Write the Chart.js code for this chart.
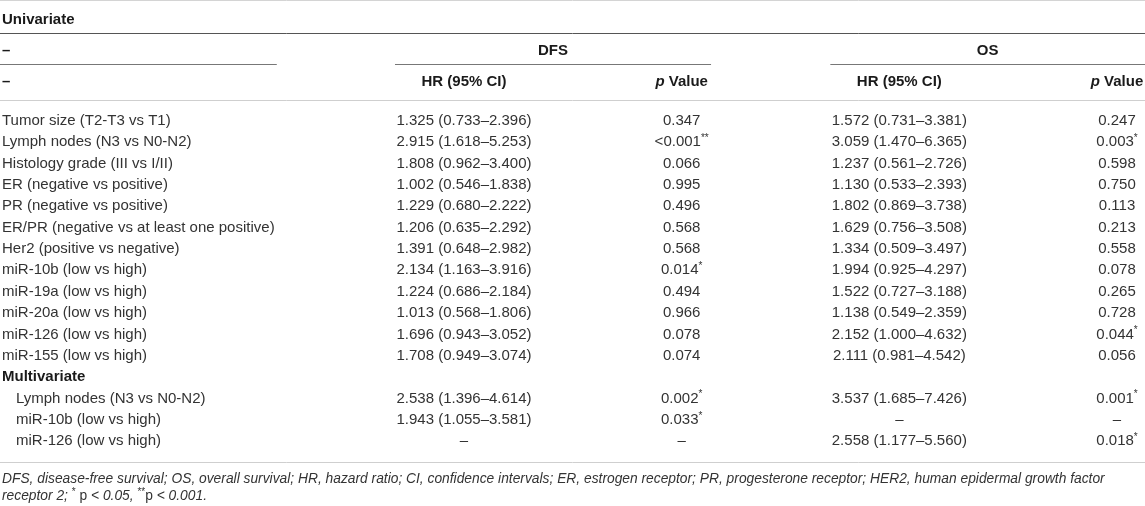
<!DOCTYPE html>
<html><head><meta charset="utf-8">
<script src="https://cdn.jsdelivr.net/npm/chart.js@4.4.1/dist/chart.umd.min.js"></script>
<style>html,body{margin:0;padding:0;background:#fff}#wrap{width:1145px;height:506px;position:relative}</style>
</head><body><div id="wrap"><canvas id="c"></canvas></div>
<script>
// ---- table content ----
const sectionTitle = 'Univariate';
const groupHeaders = ['DFS', 'OS'];
const columnHeaders = ['HR (95% CI)', 'p Value', 'HR (95% CI)', 'p Value'];
const rowLabels = [
  'Tumor size (T2-T3 vs T1)',
  'Lymph nodes (N3 vs N0-N2)',
  'Histology grade (III vs I/II)',
  'ER (negative vs positive)',
  'PR (negative vs positive)',
  'ER/PR (negative vs at least one positive)',
  'Her2 (positive vs negative)',
  'miR-10b (low vs high)',
  'miR-19a (low vs high)',
  'miR-20a (low vs high)',
  'miR-126 (low vs high)',
  'miR-155 (low vs high)',
  'Multivariate',
  'Lymph nodes (N3 vs N0-N2) ',
  'miR-10b (low vs high) ',
  'miR-126 (low vs high) '
];
const rowKind = ['n','n','n','n','n','n','n','n','n','n','n','n','section','sub','sub','sub'];
const dfsHR = ['1.325 (0.733–2.396)','2.915 (1.618–5.253)','1.808 (0.962–3.400)','1.002 (0.546–1.838)','1.229 (0.680–2.222)','1.206 (0.635–2.292)','1.391 (0.648–2.982)','2.134 (1.163–3.916)','1.224 (0.686–2.184)','1.013 (0.568–1.806)','1.696 (0.943–3.052)','1.708 (0.949–3.074)','','2.538 (1.396–4.614)','1.943 (1.055–3.581)','–'];
const dfsP = ['0.347','<0.001**','0.066','0.995','0.496','0.568','0.568','0.014*','0.494','0.966','0.078','0.074','','0.002*','0.033*','–'];
const osHR = ['1.572 (0.731–3.381)','3.059 (1.470–6.365)','1.237 (0.561–2.726)','1.130 (0.533–2.393)','1.802 (0.869–3.738)','1.629 (0.756–3.508)','1.334 (0.509–3.497)','1.994 (0.925–4.297)','1.522 (0.727–3.188)','1.138 (0.549–2.359)','2.152 (1.000–4.632)','2.111 (0.981–4.542)','','3.537 (1.685–7.426)','–','2.558 (1.177–5.560)'];
const osP = ['0.247','0.003*','0.598','0.750','0.113','0.213','0.558','0.078','0.265','0.728','0.044*','0.056','','0.001*','–','0.018*'];
const footnoteLine1 = 'DFS, disease-free survival; OS, overall survival; HR, hazard ratio; CI, confidence intervals; ER, estrogen receptor; PR, progesterone receptor; HER2, human epidermal growth factor';
const footnoteLine2 = [['receptor 2; ','i'],['*','sup'],[' p ','n'],['< 0.05, ','i'],['**','sup'],['p ','n'],['< 0.001.','i']];

const columns = [dfsHR, dfsP, osHR, osP];

// ---- styling ----
const FONT = '"Liberation Sans", Arial, Helvetica, sans-serif';
const TXT = '#333333';
const HEAD = '#1a1a1a';
const FOOT = '13.8px ';

const datasets = columns.map((col, ci) => ({
  label: columnHeaders[ci],
  data: rowLabels.map((r) => ({ x: ci + 1, y: r })),
  pointRadius: 0, pointHoverRadius: 0, showLine: false
}));
datasets.unshift({ label: 'label', data: rowLabels.map((r) => ({ x: 0, y: r })), pointRadius: 0, pointHoverRadius: 0, showLine: false });

function drawP(ctx, s, cx, cy) {
  const m = s.match(/^(.*?)(\**)$/);
  const main = m[1], stars = m[2];
  ctx.font = '15px ' + FONT;
  const w1 = ctx.measureText(main).width;
  ctx.font = '10px ' + FONT;
  const w2 = stars ? ctx.measureText(stars).width : 0;
  const left = cx - (w1 + w2) / 2;
  ctx.textAlign = 'left';
  ctx.font = '15px ' + FONT;
  ctx.fillText(main, left, cy);
  if (stars) { ctx.font = '10px ' + FONT; ctx.fillText(stars, left + w1, cy - 4); }
}

const tablePlugin = {
  id: 'tablePlugin',
  afterDatasetsDraw(chart) {
    const ctx = chart.ctx, a = chart.chartArea, xs = chart.scales.x;
    const colW = xs.getPixelForValue(2) - xs.getPixelForValue(1);
    const W = chart.width;
    ctx.save();
    ctx.textBaseline = 'middle';
    const hline = (x1, x2, y, color) => { ctx.strokeStyle = color; ctx.lineWidth = 1; ctx.beginPath(); ctx.moveTo(x1, y); ctx.lineTo(x2, y); ctx.stroke(); };
    // rules
    hline(0, W, 0.5, '#d4d4d4');
    hline(0, W, a.top - 76.5, '#555555');
    hline(0, W, a.top - 9.5, '#cfcfcf');
    hline(0, W, a.bottom + 10.5, '#cfcfcf');
    const uy = a.top - 45.5;
    const x0 = xs.getPixelForValue(0);
    hline(0, x0 + 0.14 * colW, uy, '#777777');
    const groups = [];
    for (let g = 0; g < 2; g++) {
      const s = xs.getPixelForValue(1 + 2 * g) - 0.317 * colW;
      const e = Math.min(W, xs.getPixelForValue(2 + 2 * g) + 0.135 * colW);
      hline(s, e, uy, '#777777');
      groups.push((s + e) / 2);
    }
    // header text
    ctx.fillStyle = HEAD;
    ctx.font = 'bold 15px ' + FONT;
    ctx.textAlign = 'left';
    ctx.fillText(sectionTitle, 2, a.top - 90);
    ctx.fillText('–', 2, a.top - 59);
    ctx.fillText('–', 2, a.top - 28);
    ctx.textAlign = 'center';
    groupHeaders.forEach((g, i) => ctx.fillText(g, groups[i], a.top - 59));
    columnHeaders.forEach((h, i) => {
      const cx = xs.getPixelForValue(i + 1);
      const cy = a.top - 28;
      if (h.startsWith('p ')) {
        ctx.font = 'italic bold 15px ' + FONT;
        const wp = ctx.measureText('p').width;
        ctx.font = 'bold 15px ' + FONT;
        const wr = ctx.measureText(' Value').width;
        const left = cx - (wp + wr) / 2;
        ctx.textAlign = 'left';
        ctx.font = 'italic bold 15px ' + FONT;
        ctx.fillText('p', left, cy);
        ctx.font = 'bold 15px ' + FONT;
        ctx.fillText(' Value', left + wp, cy);
      } else {
        ctx.textAlign = 'center';
        ctx.font = 'bold 15px ' + FONT;
        ctx.fillText(h, cx, cy);
      }
    });
    // body
    const labelMeta = chart.getDatasetMeta(0);
    rowLabels.forEach((r, i) => {
      const pt = labelMeta.data[i];
      const kind = rowKind[i];
      ctx.textAlign = 'left';
      if (kind === 'section') { ctx.font = 'bold 15px ' + FONT; ctx.fillStyle = HEAD; }
      else { ctx.font = '15px ' + FONT; ctx.fillStyle = TXT; }
      const ind = kind === 'sub' ? 16 : 2;
      ctx.fillText(r.trim(), ind, pt.y);
    });
    ctx.fillStyle = TXT;
    columns.forEach((col, ci) => {
      const meta = chart.getDatasetMeta(ci + 1);
      col.forEach((v, i) => {
        if (!v) return;
        const pt = meta.data[i];
        if (ci % 2 === 1) drawP(ctx, v, pt.x, pt.y);
        else { ctx.textAlign = 'center'; ctx.font = '15px ' + FONT; ctx.fillText(v, pt.x, pt.y); }
      });
    });
    // footnote
    ctx.textAlign = 'left';
    ctx.font = 'italic ' + FOOT + FONT;
    ctx.fillText(footnoteLine1, 2, a.bottom + 27);
    let fx = 2;
    const fy = a.bottom + 44;
    footnoteLine2.forEach(([t, k]) => {
      if (k === 'sup') { ctx.font = '10px ' + FONT; ctx.fillText(t, fx, fy - 4); }
      else { ctx.font = (k === 'i' ? 'italic ' : '') + FOOT + FONT; ctx.fillText(t, fx, fy); }
      fx += ctx.measureText(t).width;
    });
    ctx.restore();
  }
};

new Chart(document.getElementById('c'), {
  type: 'scatter',
  data: { datasets },
  options: {
    responsive: true, maintainAspectRatio: false, animation: false,
    events: [],
    layout: { padding: { top: 110, bottom: 54, left: 0, right: 0 } },
    plugins: { legend: { display: false }, tooltip: { enabled: false } },
    scales: {
      x: { type: 'linear', min: -1.1316, max: 4.1286, display: false },
      y: { type: 'category', labels: rowLabels, offset: true, display: false }
    }
  },
  plugins: [tablePlugin]
});
</script>
</body></html>
